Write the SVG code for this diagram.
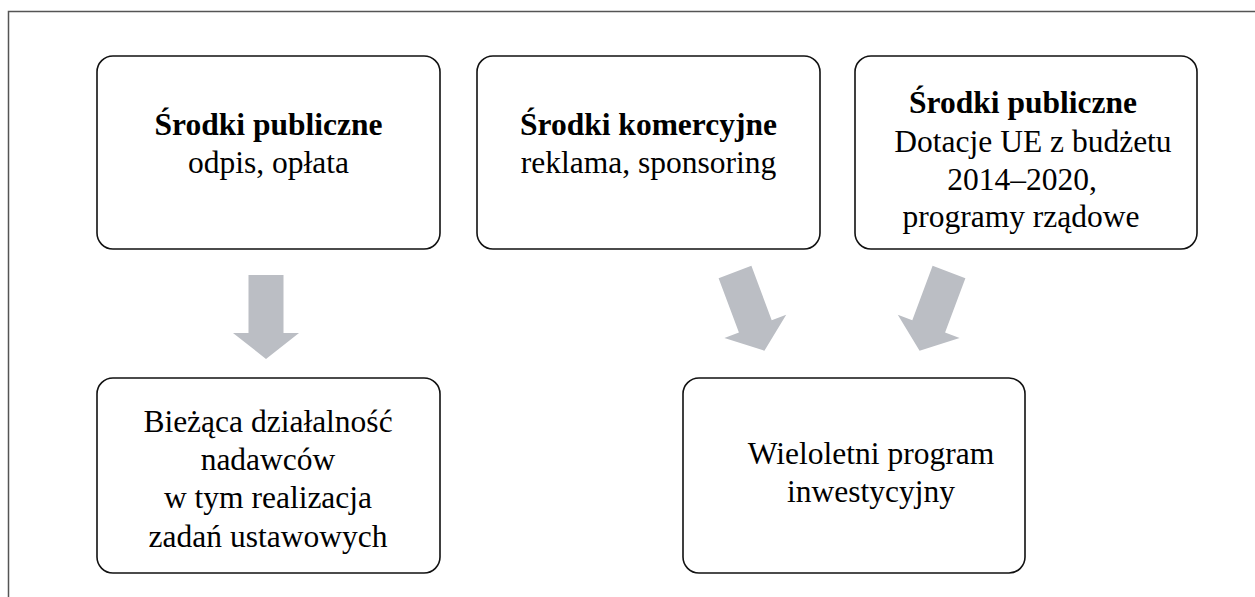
<svg xmlns="http://www.w3.org/2000/svg" xmlns:xlink="http://www.w3.org/1999/xlink" width="1255" height="597" viewBox="0 0 1255 597">
<style>
.box{fill:#fff;stroke:#111;stroke-width:1.6}
.t{font-family:"Liberation Serif","Times New Roman",serif;font-size:31.5px;fill:#000;text-anchor:middle}
.b{font-weight:bold}
.arr{fill:#BBBEC4}
</style>
<defs>
<path id="arrow" d="M-17.5,0 H17.5 V58 H33 L0,84 L-33,58 H-17.5 Z"/>
</defs>
<rect x="0" y="0" width="1255" height="597" fill="#fff"/>
<rect x="8.5" y="11.5" width="1260" height="600" fill="none" stroke="#555" stroke-width="1.5"/>
<g id="n1">
<rect class="box" x="97" y="56" width="343" height="193" rx="16"/>
<text class="t b" x="268.5" y="135">Środki publiczne</text>
<text class="t" x="268.5" y="173">odpis, opłata</text>
</g>
<g id="n2">
<rect class="box" x="477" y="56" width="343" height="193" rx="16"/>
<text class="t b" x="648.5" y="135">Środki komercyjne</text>
<text class="t" x="648.5" y="173">reklama, sponsoring</text>
</g>
<g id="n3">
<rect class="box" x="855" y="56" width="342" height="193" rx="16"/>
<text class="t b" x="1023" y="113">Środki publiczne</text>
<text class="t" x="1033" y="152">Dotacje UE z budżetu</text>
<text class="t" x="1022" y="190">2014–2020,</text>
<text class="t" x="1021" y="227">programy rządowe</text>
</g>
<g id="n4">
<rect class="box" x="97" y="378" width="343" height="195" rx="16"/>
<text class="t" x="268" y="432">Bieżąca działalność</text>
<text class="t" x="268" y="470">nadawców</text>
<text class="t" x="268" y="508">w tym realizacja</text>
<text class="t" x="268" y="547">zadań ustawowych</text>
</g>
<g id="n5">
<rect class="box" x="683" y="378" width="342" height="195" rx="16"/>
<text class="t" x="871" y="464">Wieloletni program</text>
<text class="t" x="871" y="502">inwestycyjny</text>
</g>
<g id="connectors" class="arr">
<use xlink:href="#arrow" transform="translate(266,275)"/>
<use xlink:href="#arrow" transform="translate(735,272) rotate(-20.5)"/>
<use xlink:href="#arrow" transform="translate(949,272) rotate(20.5)"/>
</g>
</svg>
